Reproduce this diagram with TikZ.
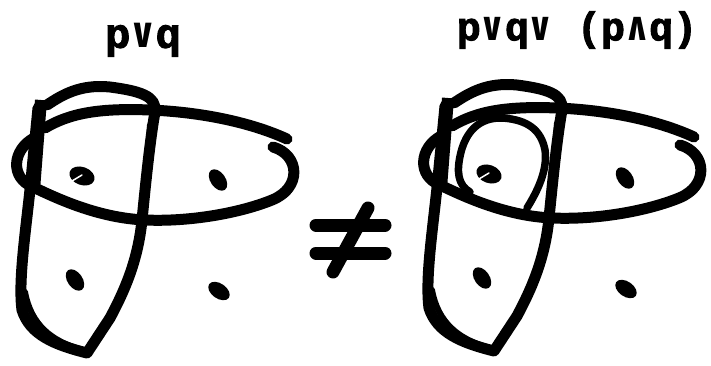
\documentclass[tikz,border=0pt]{standalone}
\usepackage{fontspec}
\newfontfamily\lblfont{Liberation Mono}[BoldFeatures={FakeBold=2.5}]
\newfontfamily\lblsym{DejaVu Sans Mono}
\newcommand{\orsym}{{\lblsym\bfseries\char"2228}}
\newcommand{\andsym}{{\lblsym\bfseries\char"2227}}
\tikzset{
  sketch/.style={line width=11pt, line cap=round, line join=round, draw=black},
  thinsketch/.style={line width=7.5pt, line cap=round, line join=round, draw=black},
  extrastroke/.style={line width=6pt, line cap=round, draw=black},
  dotmark/.style={fill=black, draw=none},
  lbl/.style={font=\lblfont\bfseries\fontsize{42}{42}\selectfont, inner sep=0pt}
}
\newcommand{\venn}{%
  % vertical region p
  \draw[sketch] (38,108) -- (31,180) .. controls (26,230) and (18,280) .. (22,310)
     .. controls (30,335) and (55,345) .. (87,353) -- (110,318)
     .. controls (125,290) and (138,260) .. (142,220)
     .. controls (146,180) and (150,140) .. (155,112)
     .. controls (157,96) and (140,91) .. (110,87)
     .. controls (80,84) and (62,95) .. (47,105);
  \draw[line width=12pt, line cap=butt] (41,100) -- (34,190);
  \draw[extrastroke] (25,292) .. controls (31,325) and (52,341) .. (80,349);
  \draw[extrastroke] (150,125) .. controls (148,160) and (145,200) .. (141,235);
  % horizontal region q
  \draw[sketch] (45,128) .. controls (70,113) and (100,108) .. (150,110)
     .. controls (200,112) and (250,122) .. (287,139);
  \draw[sketch] (273,147) .. controls (300,155) and (302,188) .. (272,200)
     .. controls (240,213) and (190,222) .. (145,220)
     .. controls (100,218) and (60,200) .. (33,187)
     .. controls (10,178) and (12,150) .. (34,138);
  \draw[extrastroke] (280,150) .. controls (297,160) and (298,185) .. (285,195);
  % points
  \fill[dotmark] (82,176) ellipse [x radius=13pt, y radius=9pt, rotate=-20];
  \draw[white, line width=1.5pt, line cap=round] (72,181) -- (82,175);
  \fill[dotmark] (218,180) ellipse [x radius=12pt, y radius=7.5pt, rotate=-55];
  \fill[dotmark] (75,280) ellipse [x radius=12pt, y radius=7.5pt, rotate=-55];
  \fill[dotmark] (219,291) ellipse [x radius=12pt, y radius=7.5pt, rotate=-35];
}
\begin{document}
\begin{tikzpicture}[x=1pt, y=-1pt]
  \useasboundingbox (0,0) rectangle (711,366);
  % titles
  \node[lbl] (t1) at (143,40) {p\orsym q};
  \node[lbl, font=\lblfont\bfseries\fontsize{40}{40}\selectfont] (t2) at (577,30) {p\orsym q\orsym\ (p\andsym q)};
  % left diagram
  \venn
  % not-equal sign
  \draw[line width=13pt, line cap=round] (316,225) -- (385,225);
  \draw[line width=13pt, line cap=round] (316,253) -- (385,253);
  \draw[line width=13pt, line cap=round] (368,208) -- (333,272);
  % right diagram
  \begin{scope}[shift={(407,-2)}]
    \venn
  \end{scope}
  % inner region p and q
  \draw[thinsketch] (527,208) .. controls (537,192) and (548,170) .. (545,150)
     .. controls (541,130) and (528,120) .. (503,118)
     .. controls (478,117) and (466,133) .. (461,152)
     .. controls (456,172) and (458,185) .. (470,192);
\end{tikzpicture}
\end{document}
